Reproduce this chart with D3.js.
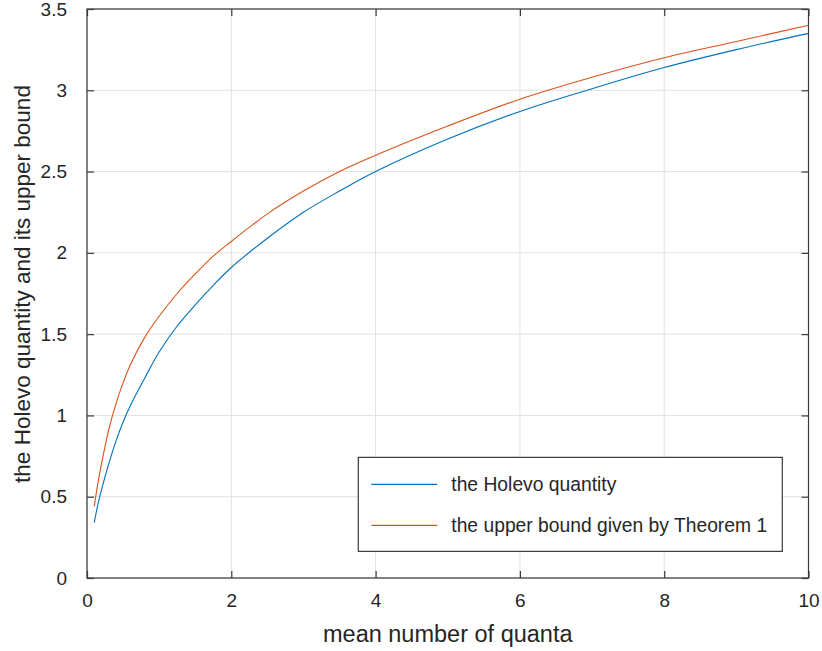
<!DOCTYPE html>
<html>
<head>
<meta charset="utf-8">
<script src="https://cdn.jsdelivr.net/npm/d3@7"></script>
<style>
  body { margin: 0; background: #fff; }
  text { font-family: "Liberation Sans", Arial, sans-serif; fill: #262626; }
</style>
</head>
<body>
<div id="chart"></div>
<script>
// values
let quanta = [0.1, 0.15, 0.2, 0.3, 0.4, 0.5, 0.6, 0.8, 1, 1.25, 1.5, 1.75, 2, 2.5, 3, 3.5, 4, 5, 6, 7, 8, 9, 10];
let holevo = [0.34, 0.45, 0.54, 0.70, 0.84, 0.96, 1.06, 1.23, 1.39, 1.55, 1.68, 1.80, 1.91, 2.09, 2.25, 2.38, 2.50, 2.70, 2.87, 3.01, 3.14, 3.25, 3.35];
let upperBound = [0.44, 0.58, 0.70, 0.91, 1.07, 1.20, 1.31, 1.48, 1.61, 1.75, 1.87, 1.98, 2.07, 2.24, 2.38, 2.50, 2.60, 2.78, 2.945, 3.08, 3.20, 3.30, 3.40];
let xTicks = [0, 2, 4, 6, 8, 10];
let yTicks = [0, 0.5, 1, 1.5, 2, 2.5, 3, 3.5];
let seriesNames = ["the Holevo quantity", "the upper bound given by Theorem 1"];
let seriesColors = ["#0072BD", "#D95319"];

let svgWidth = 822;
let svgHeight = 651;

let margin = { top: 9, right: 13.5, bottom: 73, left: 87 };

let width = svgWidth - margin.left - margin.right;
let height = svgHeight - margin.top - margin.bottom;

let svg = d3.select("#chart")
  .append("svg")
  .attr("width", svgWidth)
  .attr("height", svgHeight);

let chartGroup = svg.append("g")
  .attr("transform", `translate(${margin.left}, ${margin.top})`);

let xScale = d3.scaleLinear().domain([0, 10]).range([0, width]);
let yScale = d3.scaleLinear().domain([0, 3.5]).range([height, 0]);

// grid lines
chartGroup.append("g")
  .selectAll("line")
  .data(xTicks)
  .enter()
  .append("line")
  .attr("x1", d => xScale(d))
  .attr("x2", d => xScale(d))
  .attr("y1", 0)
  .attr("y2", height)
  .attr("stroke", "#e1e1e1")
  .attr("stroke-width", 1);

chartGroup.append("g")
  .selectAll("line")
  .data(yTicks)
  .enter()
  .append("line")
  .attr("x1", 0)
  .attr("x2", width)
  .attr("y1", d => yScale(d))
  .attr("y2", d => yScale(d))
  .attr("stroke", "#e1e1e1")
  .attr("stroke-width", 1);

// axes with inward ticks on all four sides
let tickLen = 7;
let fmt = d => String(d);
let styleAxis = function(g) {
  g.select(".domain").remove();
  g.selectAll(".tick line").attr("stroke", "#3a3a3a").attr("stroke-width", 1.2);
  g.selectAll(".tick text").style("font-size", "19px").attr("fill", "#262626");
};

chartGroup.append("g")
  .attr("transform", `translate(0, ${height})`)
  .call(d3.axisBottom(xScale).tickValues(xTicks).tickFormat(fmt).tickSizeInner(-tickLen).tickSizeOuter(0).tickPadding(16))
  .call(styleAxis);

chartGroup.append("g")
  .call(d3.axisTop(xScale).tickValues(xTicks).tickSizeInner(-tickLen).tickSizeOuter(0).tickFormat(""))
  .call(styleAxis);

chartGroup.append("g")
  .call(d3.axisLeft(yScale).tickValues(yTicks).tickFormat(fmt).tickSizeInner(-tickLen).tickSizeOuter(0).tickPadding(20))
  .call(styleAxis);

chartGroup.append("g")
  .attr("transform", `translate(${width}, 0)`)
  .call(d3.axisRight(yScale).tickValues(yTicks).tickSizeInner(-tickLen).tickSizeOuter(0).tickFormat(""))
  .call(styleAxis);

// the box
chartGroup.append("rect")
  .attr("width", width)
  .attr("height", height)
  .attr("fill", "none")
  .attr("stroke", "#3a3a3a")
  .attr("stroke-width", 1.2);

// the two curves
let line = d3.line()
  .x(d => xScale(d[0]))
  .y(d => yScale(d[1]))
  .curve(d3.curveCatmullRom.alpha(0.5));

[holevo, upperBound].forEach(function(values, i) {
  chartGroup.append("path")
    .datum(quanta.map((q, j) => [q, values[j]]))
    .attr("d", line)
    .attr("fill", "none")
    .attr("stroke", seriesColors[i])
    .attr("stroke-width", 1.1);
});

// axis labels
chartGroup.append("text")
  .attr("x", width / 2)
  .attr("y", height + 64)
  .attr("text-anchor", "middle")
  .style("font-size", "23.5px")
  .text("mean number of quanta");

chartGroup.append("text")
  .attr("transform", "rotate(-90)")
  .attr("x", -(284 - margin.top))
  .attr("y", -57)
  .attr("text-anchor", "middle")
  .style("font-size", "22.5px")
  .text("the Holevo quantity and its upper bound");

// legend
let legend = chartGroup.append("g")
  .attr("transform", `translate(${xScale(3.76)}, ${yScale(0.742)})`);

legend.append("rect")
  .attr("width", 424)
  .attr("height", 94)
  .attr("fill", "#fff")
  .attr("stroke", "#3a3a3a")
  .attr("stroke-width", 1.2);

seriesNames.forEach(function(name, i) {
  let rowY = 27 + i * 41;
  legend.append("line")
    .attr("x1", 13)
    .attr("x2", 79)
    .attr("y1", rowY)
    .attr("y2", rowY)
    .attr("stroke", seriesColors[i])
    .attr("stroke-width", 1.1);
  legend.append("text")
    .attr("x", 93)
    .attr("y", rowY)
    .attr("dy", "0.35em")
    .style("font-size", "19.3px")
    .text(name);
});
</script>
</body>
</html>
